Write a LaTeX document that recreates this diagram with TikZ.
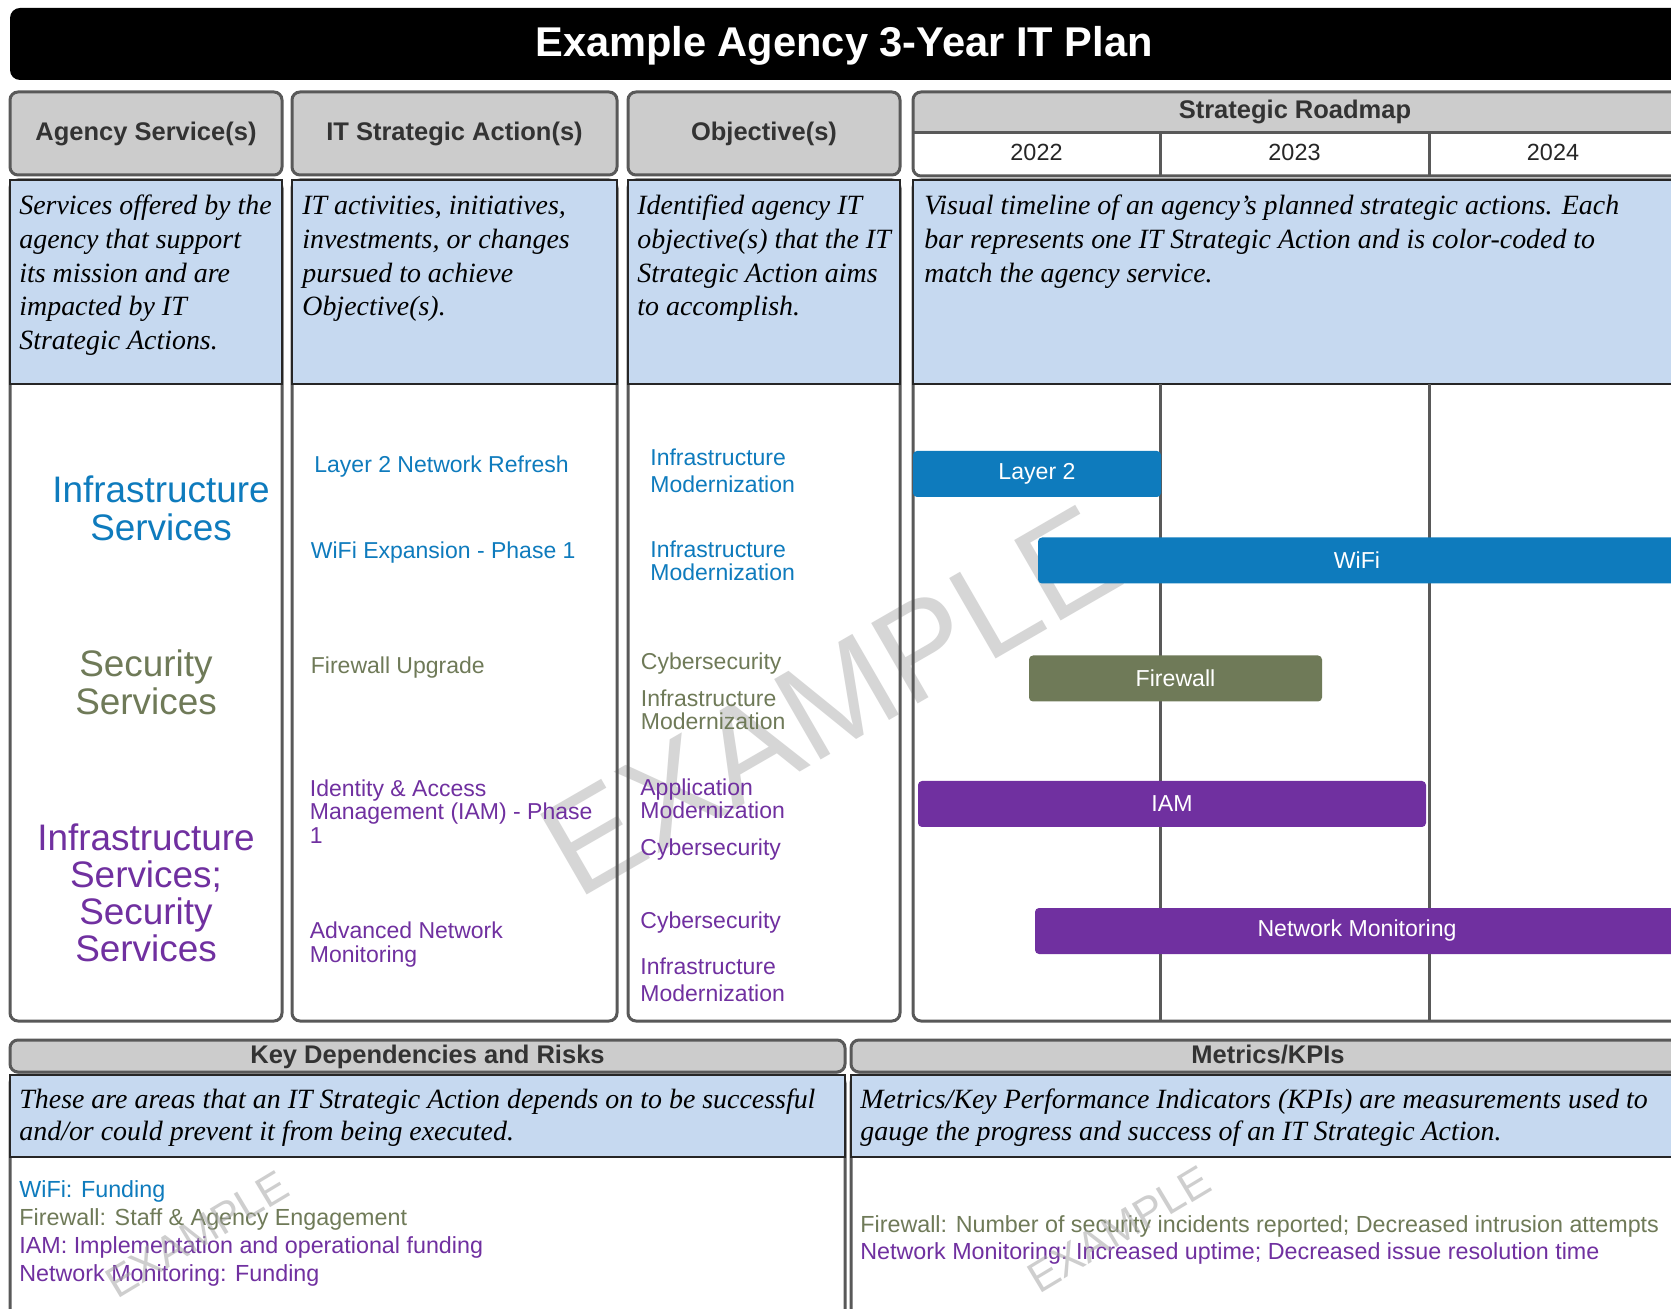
\documentclass[tikz,border=0pt]{standalone}
\usepackage{fontspec}
\setmainfont{Liberation Sans}
\newfontfamily\seriffam{Liberation Serif}
\definecolor{cblue}{RGB}{14,123,189}
\definecolor{colive}{RGB}{111,122,88}
\definecolor{cpurple}{RGB}{112,48,160}
\definecolor{hdrgray}{RGB}{204,204,204}
\definecolor{edgegray}{RGB}{89,89,89}
\definecolor{descblue}{RGB}{198,217,240}
\definecolor{hdrtext}{RGB}{51,51,51}
\definecolor{wmgray}{RGB}{214,214,214}
\begin{document}
\begin{tikzpicture}[x=0.5pt,y=-0.5pt,
  hdrbox/.style={fill=hdrgray,draw=edgegray,line width=1.5pt,rounded corners=4pt},
  colfill/.style={fill=white,rounded corners=4pt},
  colline/.style={draw=edgegray,line width=1.5pt,rounded corners=4pt},
  descbox/.style={fill=descblue,draw=black!85,line width=1pt},
  hdrtxt/.style={font=\bfseries\fontsize{12.75}{15}\selectfont,text=hdrtext,inner sep=0pt,anchor=base},
  yeartxt/.style={font=\fontsize{11.7}{14}\selectfont,text=black!85,inner sep=0pt,anchor=base},
  desctxt/.style={font=\seriffam\itshape\fontsize{13.95}{16.8}\selectfont,align=left,inner sep=0pt,anchor=base west},
  coltxt/.style={font=\fontsize{11.5}{13.8}\selectfont,align=left,inner sep=0pt,anchor=base west},
  svctxt/.style={font=\fontsize{18.45}{18.65}\selectfont,align=center,inner sep=0pt,anchor=base},
  bar/.style={rounded corners=2pt,inner sep=0pt,text=white,font=\fontsize{11.55}{13}\selectfont,minimum height=23pt},
  vline/.style={draw=edgegray,line width=1.5pt},
  smallwm/.style={rotate=31,font=\fontsize{21.6}{24}\selectfont,text=black!35,opacity=0.55,inner sep=0pt}
]
\useasboundingbox (0,0) rectangle (1671,1309);
\clip (0,0) rectangle (1671,1309);
\fill[white] (0,0) rectangle (1671,1309);

% title
\fill[black,rounded corners=5pt] (10,8) rectangle (1710,80);
\node[font=\bfseries\fontsize{20.8}{24}\selectfont,text=white,inner sep=0pt,anchor=base] (title) at (844,57) {Example Agency 3-Year IT Plan};

% headers
\draw[hdrbox] (10,92) rectangle (282,175);
\draw[hdrbox] (292,92) rectangle (617,175);
\draw[hdrbox] (628,92) rectangle (900,175);
\begin{scope}
  \clip[rounded corners=4pt] (913,92) rectangle (1700,176);
  \fill[white] (913,92) rectangle (1700,176);
  \fill[hdrgray] (913,92) rectangle (1700,133);
\end{scope}
\draw[vline] (913,133) -- (1700,133);
\draw[vline] (1160,133) -- (1160,176);
\draw[vline] (1429,133) -- (1429,176);
\draw[draw=edgegray,line width=1.5pt,rounded corners=4pt] (913,92) rectangle (1700,176);

% column bodies (fill)
\fill[colfill] (10,180) rectangle (282,1021);
\fill[colfill] (292,180) rectangle (617,1021);
\fill[colfill] (628,180) rectangle (900,1021);
\fill[colfill] (913,180) rectangle (1700,1021);

% big watermark
\node[rotate=30,font=\fontsize{67.5}{76}\selectfont,text=wmgray,inner sep=0pt] (wm) at (830,701) {EXAMPLE};

% column outlines and description boxes
\draw[colline] (10,180) rectangle (282,1021);
\draw[colline] (292,180) rectangle (617,1021);
\draw[colline] (628,180) rectangle (900,1021);
\draw[colline] (913,180) rectangle (1700,1021);
\draw[descbox] (10,180) rectangle (282,384);
\draw[descbox] (292,180) rectangle (617,384);
\draw[descbox] (628,180) rectangle (900,384);
\draw[descbox] (913,180) rectangle (1700,384);

% timeline lines
\draw[vline] (1160,384) -- (1160,1021);
\draw[vline] (1429,384) -- (1429,1021);

% bottom sections
\draw[hdrbox] (10,1040) rectangle (845,1072);
\draw[colfill,colline] (10,1075) rectangle (845,1360);
\draw[descbox] (10,1075) rectangle (845,1157);
\draw[hdrbox] (851,1040) rectangle (1700,1072);
\draw[colfill,colline] (851,1075) rectangle (1700,1360);
\draw[descbox] (851,1075) rectangle (1700,1157);

% header texts
\node[hdrtxt] (h1) at (146,141) {Agency Service(s)};
\node[hdrtxt] (h2) at (454.5,141) {IT Strategic Action(s)};
\node[hdrtxt] (h3) at (764,141) {Objective(s)};
\node[hdrtxt] (h4) at (1295,119) {Strategic Roadmap};
\node[yeartxt] (y22) at (1036.5,160.5) {2022};
\node[yeartxt] (y23) at (1294.5,160.5) {2023};
\node[yeartxt] (y24) at (1553,160.5) {2024};
\node[hdrtxt] (h5) at (427.5,1063) {Key Dependencies and Risks};
\node[hdrtxt] (h6) at (1268,1063) {Metrics/KPIs};

% descriptions (anchored at the baseline of the last line)
\node[desctxt] (d1) at (19,349.4) {Services offered by the\\agency that support\\its mission and are\\impacted by IT\\Strategic Actions.};
\node[desctxt] (d2) at (302,315.8) {IT activities, initiatives,\\investments, or changes\\pursued to achieve\\Objective(s).};
\node[desctxt] (d3) at (637,315.8) {Identified agency IT\\objective(s) that the IT\\Strategic Action aims\\to accomplish.};
\node[desctxt] (d4) at (924,282.2) {Visual timeline of an agency’s planned strategic actions. Each\\bar represents one IT Strategic Action and is color-coded to\\match the agency service.};
\node[desctxt,font=\seriffam\itshape\fontsize{13.95}{16.3}\selectfont] (d5) at (19,1140.6) {These are areas that an IT Strategic Action depends on to be successful\\and/or could prevent it from being executed.};
\node[desctxt,font=\seriffam\itshape\fontsize{13.95}{16.3}\selectfont] (d6) at (860,1140.6) {Metrics/Key Performance Indicators (KPIs) are measurements used to\\gauge the progress and success of an IT Strategic Action.};

% services
\node[svctxt,text=cblue] (s1) at (161,540.3) {Infrastructure\\Services};
\node[svctxt,text=colive] (s2) at (146,714.3) {Security\\Services};
\node[svctxt,text=cpurple] (s3) at (146,961.9) {Infrastructure\\Services;\\Security\\Services};

% actions
\node[coltxt,text=cblue] (a1) at (314,473) {Layer 2 Network Refresh};
\node[coltxt,text=cblue] (a2) at (310.5,559) {WiFi Expansion - Phase 1};
\node[coltxt,text=colive] (a3) at (310.5,673.5) {Firewall Upgrade};
\node[coltxt,text=cpurple,font=\fontsize{11.5}{11.75}\selectfont] (a4) at (309.5,843) {Identity \& Access\\Management (IAM) - Phase\\1};
\node[coltxt,text=cpurple,font=\fontsize{11.5}{12}\selectfont] (a5) at (309.5,962) {Advanced Network\\Monitoring};

% objectives
\node[coltxt,text=cblue,font=\fontsize{11.5}{13.7}\selectfont] (o1) at (650,492.9) {Infrastructure\\Modernization};
\node[coltxt,text=cblue,font=\fontsize{11.5}{11.5}\selectfont] (o2) at (650,581) {Infrastructure\\Modernization};
\node[coltxt,text=colive] (o3) at (640.5,670) {Cybersecurity};
\node[coltxt,text=colive,font=\fontsize{11.5}{11.65}\selectfont] (o4) at (640.5,729.8) {Infrastructure\\Modernization};
\node[coltxt,text=cpurple,font=\fontsize{11.5}{11.35}\selectfont] (o5) at (640,818.7) {Application\\Modernization};
\node[coltxt,text=cpurple] (o6) at (640,855.5) {Cybersecurity};
\node[coltxt,text=cpurple] (o7) at (640,928.5) {Cybersecurity};
\node[coltxt,text=cpurple,font=\fontsize{11.5}{13.5}\selectfont] (o8) at (640,1001) {Infrastructure\\Modernization};

% bars
\node[bar,fill=cblue,minimum width=124pt] (bl2) at (1037,474) {Layer 2};
\node[bar,fill=cblue,minimum width=319pt] (bwifi) at (1357,560.5) {WiFi};
\node[bar,fill=colive,minimum width=146.5pt] (bfw) at (1175.5,678.5) {Firewall};
\node[bar,fill=cpurple,minimum width=254pt] (biam) at (1172,804) {IAM};
\node[bar,fill=cpurple,minimum width=322pt] (bnm) at (1357,931) {Network Monitoring};

% bottom lists
\node[coltxt,font=\fontsize{11.65}{14}\selectfont] (deps) at (19,1281) {\textcolor{cblue}{WiFi: Funding}\\\textcolor{colive}{Firewall: Staff \& Agency Engagement}\\\textcolor{cpurple}{IAM: Implementation and operational funding}\\\textcolor{cpurple}{Network Monitoring: Funding}};
\node[coltxt,font=\fontsize{11.65}{13.75}\selectfont] (kpis) at (860,1259.5) {\textcolor{colive}{Firewall: Number of security incidents reported; Decreased intrusion attempts}\\\textcolor{cpurple}{Network Monitoring: Increased uptime; Decreased issue resolution time}};

% small watermarks
\node[smallwm] (wm2) at (197,1234) {EXAMPLE};
\node[smallwm] (wm3) at (1119,1229) {EXAMPLE};
\end{tikzpicture}
\end{document}
